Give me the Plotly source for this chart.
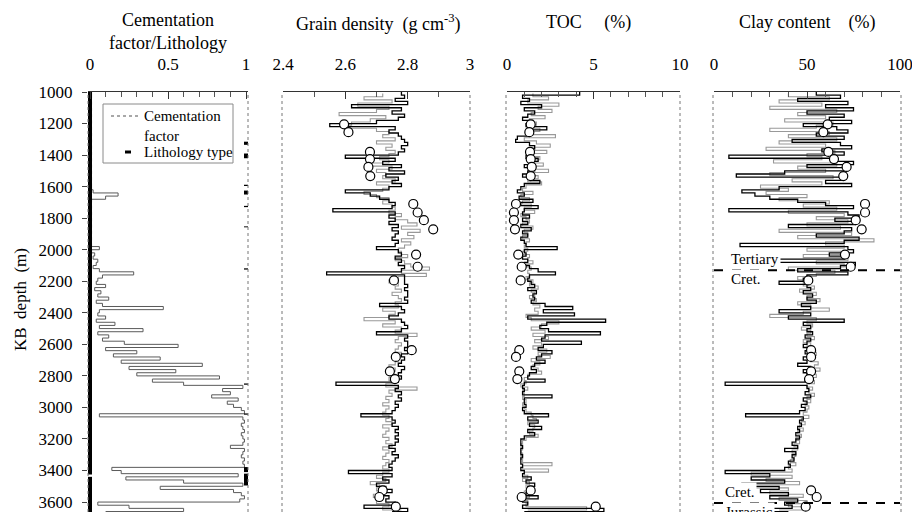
import plotly.graph_objects as go

# ---------------------------------------------------------------------------
# Well-log data (depths in m below kelly bushing)
# ---------------------------------------------------------------------------
depth_a = list(range(1000, 3661, 20))   # sampling of the main (black) logs
depth_b = list(range(1010, 3651, 20))   # sampling of the secondary (grey) logs

cementation = [
    0.01, 0.01, 0.0, 0.01, 0.0, 0.01, 0.0, 0.01, 0.0, 0.01,
    0.0, 0.01, 0.0, 0.01, 0.0, 0.01, 0.0, 0.01, 0.0, 0.01,
    0.0, 0.01, 0.0, 0.01, 0.0, 0.01, 0.0, 0.01, 0.0, 0.01,
    0.01, 0.02, 0.18, 0.10, 0.01, 0.0, 0.01, 0.0, 0.01, 0.0,
    0.01, 0.0, 0.01, 0.0, 0.01, 0.0, 0.01, 0.0, 0.01, 0.06,
    0.01, 0.03, 0.02, 0.05, 0.04, 0.02, 0.06, 0.28, 0.08, 0.05,
    0.04, 0.10, 0.03, 0.07, 0.05, 0.12, 0.04, 0.08, 0.47, 0.06,
    0.05, 0.10, 0.04, 0.16, 0.06, 0.34, 0.05, 0.12, 0.08, 0.22,
    0.565, 0.10, 0.30, 0.15, 0.45, 0.20, 0.72, 0.25, 0.55, 0.30,
    0.83, 0.40, 0.60, 0.98, 0.85, 0.90, 0.78, 0.95, 0.88, 0.92,
    0.97, 0.99, 0.06, 0.98, 0.99, 0.97, 0.98, 0.99, 0.97, 0.98,
    0.99, 0.98, 0.90, 0.99, 0.98, 0.97, 0.99, 0.98, 0.99, 0.14,
    0.20, 0.95, 0.23, 0.60, 0.98, 0.45, 0.92, 0.97, 0.99, 0.96,
    0.05, 0.25, 0.60, 0.10,
]

# Lithology intervals: top, base, type (0 / 1)
lith_top = [1000, 3440, 1315, 1390, 1588, 1625, 1722, 1852, 2118, 2848, 3038, 3378, 3420]
lith_base = [3425, 3665, 1335, 1420, 1596, 1650, 1730, 1858, 2126, 2856, 3046, 3410, 3495]
lith_type = [0, 0, 1, 1, 1, 1, 1, 1, 1, 1, 1, 1, 1]

grain_density_log = [
    2.78, 2.79, 2.76, 2.80, 2.62, 2.78, 2.75, 2.79, 2.77, 2.70,
    2.55, 2.76, 2.74, 2.77, 2.78, 2.79, 2.80, 2.78, 2.79, 2.77,
    2.60, 2.76, 2.72, 2.78, 2.74, 2.79, 2.73, 2.77, 2.75, 2.78,
    2.74, 2.60, 2.68, 2.71, 2.74, 2.76, 2.75, 2.56, 2.76, 2.74,
    2.76, 2.74, 2.77, 2.75, 2.77, 2.76, 2.75, 2.77, 2.76, 2.70,
    2.77, 2.78, 2.76, 2.78, 2.77, 2.79, 2.78, 2.54, 2.79, 2.79,
    2.79, 2.80, 2.79, 2.80, 2.80, 2.79, 2.80, 2.71, 2.78, 2.79,
    2.77, 2.74, 2.78, 2.79, 2.80, 2.78, 2.70, 2.80, 2.79, 2.80,
    2.80, 2.79, 2.80, 2.78, 2.79, 2.78, 2.77, 2.79, 2.78, 2.77,
    2.78, 2.77, 2.57, 2.77, 2.76, 2.78, 2.77, 2.78, 2.76, 2.77,
    2.76, 2.75, 2.65, 2.75, 2.76, 2.75, 2.77, 2.76, 2.77, 2.76,
    2.77, 2.76, 2.74, 2.76, 2.75, 2.77, 2.76, 2.75, 2.74, 2.75,
    2.61, 2.75, 2.72, 2.74, 2.70, 2.73, 2.75, 2.72, 2.74, 2.73,
    2.76, 2.66, 2.80, 2.75,
]
grain_density_calc = [
    2.72, 2.66, 2.75, 2.64, 2.74, 2.70, 2.58, 2.73, 2.68, 2.62,
    2.60, 2.70, 2.74, 2.72, 2.76, 2.70, 2.75, 2.73, 2.76, 2.74,
    2.71, 2.74, 2.68, 2.75, 2.70, 2.73, 2.72, 2.76, 2.70, 2.74,
    2.72, 2.66, 2.70, 2.74, 2.72, 2.75, 2.76, 2.74, 2.78, 2.76,
    2.80, 2.83, 2.78, 2.84, 2.80, 2.82, 2.78, 2.81, 2.79, 2.77,
    2.78, 2.80, 2.76, 2.79, 2.81, 2.87, 2.78, 2.86, 2.77, 2.74,
    2.77, 2.76, 2.78, 2.75, 2.77, 2.78, 2.76, 2.77, 2.72, 2.76,
    2.74, 2.66, 2.76, 2.72, 2.78, 2.76, 2.83, 2.77, 2.76, 2.78,
    2.77, 2.76, 2.78, 2.75, 2.77, 2.76, 2.74, 2.76, 2.75, 2.76,
    2.74, 2.75, 2.73, 2.83, 2.74, 2.75, 2.73, 2.74, 2.72, 2.74,
    2.73, 2.72, 2.74, 2.73, 2.75, 2.72, 2.74, 2.73, 2.72, 2.74,
    2.73, 2.75, 2.72, 2.74, 2.73, 2.72, 2.74, 2.73, 2.72, 2.74,
    2.72, 2.70, 2.73, 2.68, 2.71, 2.70, 2.72, 2.69, 2.71, 2.70,
    2.74, 2.72, 2.78,
]

toc_log = [
    4.2, 0.9, 1.3, 0.8, 2.0, 1.0, 1.6, 1.2, 0.9, 1.5,
    1.1, 2.3, 1.3, 1.2, 0.6, 0.5, 1.3, 1.6, 1.2, 1.5,
    1.1, 1.8, 1.3, 1.0, 1.6, 1.2, 0.9, 1.4, 1.9, 1.0,
    0.8, 0.6, 1.0, 0.7, 1.5, 0.8, 1.8, 1.0, 0.9, 1.3,
    0.9, 1.2, 0.8, 1.4, 0.9, 1.2, 0.8, 1.0, 1.1, 2.9,
    1.0, 1.1, 0.9, 1.2, 1.0, 1.3, 1.8, 2.8, 1.3, 1.2,
    1.4, 1.6, 1.2, 1.7, 1.5, 1.6, 1.4, 2.2, 3.8, 2.1,
    3.9, 1.2, 5.7, 2.3, 1.9, 2.4, 5.4, 2.2, 2.0, 4.3,
    2.1, 1.8, 2.6, 2.0, 1.7, 2.2, 1.6, 1.4, 1.7, 1.3,
    1.2, 2.2, 1.0, 0.9, 1.0, 0.9, 2.6, 1.0, 1.0, 1.1,
    0.9, 1.0, 2.4, 1.2, 1.8, 1.3, 2.0, 1.2, 1.6, 1.0,
    0.8, 0.8, 0.9, 0.8, 0.8, 0.9, 0.8, 0.8, 0.9, 0.8,
    1.0, 0.9, 1.4, 1.1, 1.6, 1.2, 1.5, 1.1, 1.8, 0.9,
    1.2, 0.9, 5.6, 1.0,
]
toc_calc = [
    1.5, 2.4, 1.2, 3.0, 1.8, 2.6, 1.4, 2.2, 1.3, 1.7,
    1.5, 1.9, 1.4, 2.8, 1.0, 1.7, 2.5, 1.4, 2.3, 1.5,
    1.9, 1.3, 2.1, 1.5, 2.4, 1.3, 1.8, 1.2, 2.0, 1.1,
    0.9, 1.5, 0.8, 1.3, 0.9, 1.4, 1.0, 1.6, 0.8, 1.1,
    1.3, 0.9, 1.5, 1.0, 1.2, 0.9, 1.3, 1.1, 1.0, 1.2,
    0.9, 1.3, 1.2, 1.5, 1.1, 1.4, 1.2, 1.3, 1.1, 1.5,
    1.3, 1.8, 1.4, 1.6, 1.3, 1.7, 1.5, 1.9, 1.6, 1.8,
    1.1, 1.4, 3.0, 2.0, 1.4, 2.2, 1.5, 2.4, 1.6, 2.0,
    1.5, 2.3, 1.8, 2.5, 1.4, 1.9, 1.5, 1.8, 2.0, 1.2,
    1.0, 1.1, 0.8, 1.2, 0.9, 1.0, 0.9, 1.1, 0.9, 1.0,
    1.1, 1.4, 1.5, 1.7, 1.2, 1.6, 1.5, 1.3, 1.8, 1.1,
    0.9, 0.8, 0.9, 0.8, 0.9, 0.8, 0.9, 2.6, 0.9, 2.4,
    1.0, 1.2, 0.9, 1.3, 1.1, 1.4, 1.0, 1.3, 1.0, 1.2,
    1.1, 4.6, 1.2,
]

clay_log = [
    55, 68, 45, 72, 60, 75, 50, 70, 62, 74,
    48, 66, 72, 55, 70, 42, 68, 74, 58, 70,
    8, 64, 75, 50, 72, 38, 12, 70, 60, 74,
    35, 15, 22, 30, 45, 60, 75, 8, 72, 78,
    65, 76, 40, 74, 70, 55, 78, 70, 14, 72,
    75, 62, 70, 30, 76, 68, 45, 72, 50, 48,
    35, 50, 52, 48, 53, 50, 55, 47, 52, 35,
    52, 40, 70, 48, 52, 50, 53, 49, 52, 50,
    48, 52, 49, 51, 48, 50, 45, 52, 48, 50,
    50, 49, 6, 50, 51, 49, 52, 48, 50, 47,
    49, 46, 17, 48, 46, 47, 45, 46, 44, 46,
    44, 42, 45, 38, 44, 42, 43, 40, 41, 38,
    6, 30, 20, 38, 15, 35, 25, 40, 30, 45,
    38, 42, 28, 40,
]
clay_calc = [
    40, 62, 35, 58, 30, 66, 45, 60, 38, 64,
    55, 30, 62, 40, 66, 35, 60, 28, 65, 50,
    58, 32, 66, 45, 60, 30, 64, 42, 58, 25,
    40, 28, 50, 35, 62, 48, 66, 40, 70, 55,
    72, 50, 68, 35, 74, 45, 86, 60, 70, 50,
    68, 48, 72, 55, 70, 40, 65, 55, 45, 52,
    48, 54, 46, 55, 50, 57, 45, 52, 62, 48,
    30, 55, 50, 53, 47, 52, 50, 54, 48, 52,
    50, 53, 55, 54, 52, 56, 54, 57, 53, 55,
    52, 54, 50, 53, 51, 54, 50, 52, 49, 51,
    50, 48, 51, 47, 49, 46, 48, 45, 47, 44,
    46, 43, 45, 42, 44, 43, 41, 44, 40, 42,
    20, 42, 28, 46, 22, 40, 30, 48, 35, 50,
    40, 48, 35,
]

# Core-plug measurements
core_depth = [1205, 1255, 1380, 1425, 1475, 1533, 1710, 1764, 1813, 1871,
              2031, 2108, 2195, 2637, 2680, 2771, 2820, 3526, 3568, 3629]
core_grain_density = [2.596, 2.61, 2.679, 2.679, 2.674, 2.68, 2.818, 2.832, 2.852, 2.882,
                      2.827, 2.832, 2.756, 2.813, 2.762, 2.743, 2.759, 2.72, 2.709, 2.762]
core_toc = [1.37, 1.29, 1.33, 1.37, 1.43, 1.37, 0.52, 0.40, 0.40, 0.46,
            0.65, 0.85, 0.79, 0.71, 0.52, 0.71, 0.60, 1.37, 0.85, 5.13]
core_clay = [61.1, 58.8, 61.5, 64.5, 71.3, 69.5, 81.2, 81.2, 76.2, 79.4,
             70.4, 73.5, 50.7, 52.2, 52.2, 52.2, 51.1, 52.2, 55.2, 49.3]

# Stratigraphic boundaries
boundary_depth = [2130, 3606]
boundary_above = ["Tertiary", "Cret."]
boundary_below = ["Cret.", "Jurassic"]

# Axis tick labels
depth_ticks = list(range(1000, 3601, 200))

# ---------------------------------------------------------------------------
W, H = 912, 512
TOP = 92
FONT = "Liberation Serif, Times New Roman, serif"
DEPTH_RANGE = [3663, 1000]

# panel pixel spans and value ranges
panels = [
    dict(px=(88, 248), rng=[-0.0128, 1.0128], minor=0.1, tickvals=[0, 0.5, 1]),
    dict(px=(283, 470), rng=[2.4, 3.0], minor=0.1, tickvals=[2.4, 2.6, 2.8, 3.0]),
    dict(px=(507, 680), rng=[0, 10], minor=1, tickvals=[0, 5, 10]),
    dict(px=(714, 900), rng=[0, 100], minor=10, tickvals=[0, 50, 100]),
]


def py(pix):
    """pixel row -> paper y"""
    return (H - pix) / (H - TOP)


def px(pix):
    """pixel column -> paper x"""
    return pix / W


fig = go.Figure()

# --- Panel 1: cementation factor and lithology
fig.add_trace(go.Scatter(x=cementation, y=depth_a, mode="lines",
                         line=dict(color="#5a5a5a", width=1, shape="vh"),
                         xaxis="x", yaxis="y", showlegend=False))
for t in (0, 1):
    xs, ys = [], []
    for top, base, lt in zip(lith_top, lith_base, lith_type):
        if lt == t:
            xs += [lt, lt, None]
            ys += [top, base, None]
    fig.add_trace(go.Scatter(x=xs, y=ys, mode="lines",
                             line=dict(color="black", width=4),
                             xaxis="x", yaxis="y", showlegend=False))

# --- Panels 2-4: grey + black logs and core points
logs = [
    ("x2", grain_density_calc, grain_density_log, core_grain_density),
    ("x3", toc_calc, toc_log, core_toc),
    ("x4", clay_calc, clay_log, core_clay),
]
for ax, grey_vals, black_vals, core_vals in logs:
    fig.add_trace(go.Scatter(x=grey_vals, y=depth_b, mode="lines",
                             line=dict(color="#999999", width=1.1, shape="vh"),
                             xaxis=ax, yaxis="y", showlegend=False))
    fig.add_trace(go.Scatter(x=black_vals, y=depth_a, mode="lines",
                             line=dict(color="black", width=1.3, shape="vh"),
                             xaxis=ax, yaxis="y", showlegend=False))
    fig.add_trace(go.Scatter(x=core_vals, y=core_depth, mode="markers",
                             marker=dict(size=9, color="white", line=dict(color="black", width=1.2)),
                             xaxis=ax, yaxis="y", showlegend=False, cliponaxis=False))

# boundaries in the clay panel
for d in boundary_depth:
    fig.add_trace(go.Scatter(x=[0, 100], y=[d, d], mode="lines",
                             line=dict(color="black", width=2, dash="dash"),
                             xaxis="x4", yaxis="y", showlegend=False, cliponaxis=False))

# --- axes
TICKFONT = dict(family=FONT, size=17, color="black")
layout = dict(
    width=W, height=H,
    margin=dict(l=0, r=0, t=TOP, b=0, pad=0, autoexpand=False),
    paper_bgcolor="white", plot_bgcolor="white",
    font=dict(family=FONT, size=17, color="black"),
    yaxis=dict(range=DEPTH_RANGE, domain=[0, 1], anchor="x", automargin=False,
               tickvals=depth_ticks, ticks="outside", ticklen=5, tickcolor="#444",
               showline=False, showgrid=False, zeroline=False,
               ticklabelstandoff=6, ticklabeloverflow="allow", tickfont=TICKFONT),
    showlegend=False,
)
for i, p in enumerate(panels):
    key = "xaxis" if i == 0 else f"xaxis{i + 1}"
    layout[key] = dict(
        domain=[px(p["px"][0]), px(p["px"][1])], range=p["rng"], anchor="y",
        automargin=False, side="top", tickvals=p["tickvals"], ticks="inside", ticklen=7,
        tickcolor="#333", showline=True, linecolor="#333", linewidth=1,
        showgrid=False, zeroline=False, ticklabelstandoff=14,
        ticklabeloverflow="allow", tickfont=TICKFONT,
        minor=dict(dtick=p["minor"], ticks="inside", ticklen=5, tickcolor="#555", showgrid=False),
    )
fig.update_layout(**layout)

# panel side borders (thin dotted)
shapes = []
border_px = [88, 248, 282, 470, 506, 680, 713, 901]
for bx in border_px:
    shapes.append(dict(type="line", xref="paper", yref="paper", x0=px(bx), x1=px(bx),
                       y0=0, y1=1, line=dict(color="#777", width=1, dash="dot")))

# key box inside the first panel
shapes.append(dict(type="rect", xref="paper", yref="paper",
                   x0=px(103), x1=px(233), y0=py(163), y1=py(104),
                   line=dict(color="#8a8a8a", width=1), fillcolor="white", layer="above"))
shapes.append(dict(type="line", xref="paper", yref="paper",
                   x0=px(111), x1=px(139), y0=py(116), y1=py(116),
                   line=dict(color="#8c8c8c", width=1.5, dash="dot")))
shapes.append(dict(type="line", xref="paper", yref="paper",
                   x0=px(125), x1=px(131), y0=py(152), y1=py(152),
                   line=dict(color="black", width=3)))
fig.update_layout(shapes=shapes)

# titles
NB = "\u00a0"
ann = []
titles = [
    (168, 20, "Cementation"),
    (168, 43, "factor/Lithology"),
    (378, 23, f"Grain density{NB}{NB}(g{NB}cm<sup>-3</sup>)"),
    (588, 23, f"TOC{NB}{NB}{NB}{NB}{NB}(%)"),
    (807, 23, f"Clay content{NB}{NB}{NB}{NB}(%)"),
]
for x, y, txt in titles:
    ann.append(dict(x=px(x), y=py(y), xref="paper", yref="paper", text=txt,
                    showarrow=False, xanchor="center", yanchor="middle",
                    font=dict(family=FONT, size=18)))
ann.append(dict(x=px(20), y=py(300), xref="paper", yref="paper",
                text=f"KB{NB}{NB}depth{NB}{NB}(m)", textangle=-90, showarrow=False,
                xanchor="center", yanchor="middle", font=dict(family=FONT, size=17)))

# key text
for ky, txt in [(116, "Cementation"), (136, "factor"), (152, "Lithology type")]:
    ann.append(dict(x=px(142), y=py(ky), xref="paper", yref="paper", text=txt,
                    showarrow=False, xanchor="left", yanchor="middle",
                    font=dict(family=FONT, size=15)))

# stratigraphic labels
label_x = [8, 5]
for d, above, below, lx in zip(boundary_depth, boundary_above, boundary_below, label_x):
    ann.append(dict(x=lx, y=d, xref="x4", yref="y", text=above, showarrow=False,
                    xanchor="left", yanchor="bottom", yshift=1, bgcolor="white",
                    font=dict(family=FONT, size=15)))
    ann.append(dict(x=lx, y=d, xref="x4", yref="y", text=below, showarrow=False,
                    xanchor="left", yanchor="top", yshift=1, bgcolor="white",
                    font=dict(family=FONT, size=15)))
fig.update_layout(annotations=ann)

fig.write_html("out.html")
